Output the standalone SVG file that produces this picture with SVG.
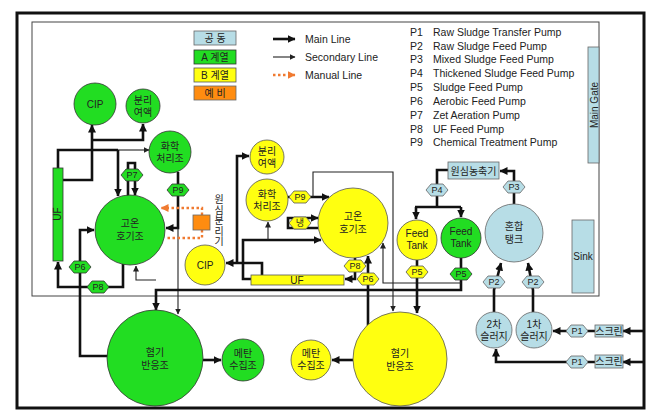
<svg xmlns="http://www.w3.org/2000/svg" xmlns:xlink="http://www.w3.org/1999/xlink" width="661" height="415" viewBox="0 0 661 415">
<style>
text{font-family:"Liberation Sans","Noto Sans CJK KR",sans-serif;fill:#222;}
.k{font-size:10px;text-anchor:middle;}
.h{font-size:9px;text-anchor:middle;}
.lg{font-size:10.5px;}
.g{fill:#22dd22;stroke:#333;stroke-width:0.8;}
.y{fill:#ffff10;stroke:#555;stroke-width:0.8;}
.b{fill:#b7dde6;stroke:#666;stroke-width:0.8;}
.o{fill:#ff8c10;stroke:#666;stroke-width:0.8;}
.m{fill:none;stroke:#111;stroke-width:2.6;marker-end:url(#am);}
.mn{fill:none;stroke:#111;stroke-width:2.6;}
.s{fill:none;stroke:#222;stroke-width:1.1;marker-end:url(#as);}
.sn{fill:none;stroke:#222;stroke-width:1.1;}
.d{fill:none;stroke:#f07a30;stroke-width:2.4;stroke-dasharray:2.5 2.5;}
</style>
<defs>
<marker id="am" viewBox="0 0 8 8" markerWidth="8" markerHeight="8" refX="7.5" refY="4" orient="auto" markerUnits="userSpaceOnUse"><path d="M0,0 L8,4 L0,8 z" fill="#111"/></marker>
<marker id="as" viewBox="0 0 6 6" markerWidth="6" markerHeight="6" refX="5.5" refY="3" orient="auto" markerUnits="userSpaceOnUse"><path d="M0,0 L6,3 L0,6 z" fill="#222"/></marker>
<marker id="ao" viewBox="0 0 8 8" markerWidth="8" markerHeight="8" refX="7.5" refY="4" orient="auto" markerUnits="userSpaceOnUse"><path d="M0,0 L8,4 L0,8 z" fill="#f07a30"/></marker>
<polygon id="hex" points="-11,0 -6,-6 6,-6 11,0 6,6 -6,6"/>
</defs>
<rect x="0" y="0" width="661" height="415" fill="#fff"/>
<rect x="17" y="13" width="627" height="395" fill="#fff" stroke="#111" stroke-width="3"/>
<rect x="32" y="22" width="567" height="274" fill="none" stroke="#444" stroke-width="1"/>

<g id="legend">
<rect x="194" y="31" width="42" height="14" class="b"/><text x="215" y="42" class="k">공 동</text>
<rect x="194" y="50" width="42" height="14" class="g"/><text x="215" y="61" class="k">A 계열</text>
<rect x="194" y="68" width="42" height="14" class="y"/><text x="215" y="79" class="k">B 계열</text>
<rect x="194" y="86" width="42" height="14" class="o"/><text x="215" y="97" class="k">예 비</text>
<line x1="273" y1="39" x2="295" y2="39" class="m"/><text x="305" y="43" class="lg">Main Line</text>
<line x1="273" y1="57" x2="295" y2="57" class="s"/><text x="305" y="61" class="lg">Secondary Line</text>
<line x1="273" y1="75" x2="295" y2="75" class="d" marker-end="url(#ao)"/><text x="305" y="79" class="lg">Manual Line</text>
<g class="lg">
<text x="410" y="36">P1</text><text x="433" y="36">Raw Sludge Transfer Pump</text>
<text x="410" y="49.5">P2</text><text x="433" y="49.5">Raw Sludge Feed Pump</text>
<text x="410" y="63">P3</text><text x="433" y="63">Mixed Sludge Feed Pump</text>
<text x="410" y="77">P4</text><text x="433" y="77">Thickened Sludge Feed Pump</text>
<text x="410" y="91">P5</text><text x="433" y="91">Sludge Feed Pump</text>
<text x="410" y="105">P6</text><text x="433" y="105">Aerobic Feed Pump</text>
<text x="410" y="119">P7</text><text x="433" y="119">Zet Aeration Pump</text>
<text x="410" y="132.5">P8</text><text x="433" y="132.5">UF Feed Pump</text>
<text x="410" y="146">P9</text><text x="433" y="146">Chemical Treatment Pump</text>
</g>
</g>

<g id="connectors">
<path d="M58,168 V150 H118" class="mn"/>
<path d="M118,150 H149" class="s"/>
<path d="M118,150 V196" class="m"/>
<path d="M63,180 H92 V125" class="m"/>
<path d="M92,140 H143 V124" class="m"/>
<path d="M128,196 V163 H135 V195" class="m"/>
<path d="M178,172 V228 H166" class="m"/>
<path d="M178,228 V314" class="s"/>
<path d="M123,264 V287 H58 V262" class="m"/>
<path d="M108,356 H80 V230 H94" class="m"/>
<path d="M156,280 H136 V266" class="s"/>
<path d="M461,258 V290 H156 V310" class="m"/>
<path d="M203,360 H221" class="m"/>
<path d="M202,215 V208 H161" class="d" marker-end="url(#ao)"/>
<path d="M202,230 V238 H166" class="d"/>
<path d="M237,263 V156 H249" class="m"/>
<path d="M262,275 V263 H226" class="m"/>
<path d="M251,279 H243 V240 H321" class="m"/>
<path d="M268,240 V222" class="s"/>
<path d="M288,197 H329" class="m"/>
<path d="M313,197 V172 H393 V311" class="s"/>
<path d="M318,228 H288 V218 H318" class="m"/>
<path d="M355,258 V279 H345" class="m"/>
<path d="M368,326 V256" class="m"/>
<path d="M461,283 H383 V243" class="s"/>
<path d="M417,260 V313" class="m"/>
<path d="M353,360 H332" class="m"/>
<path d="M448,170 H437 V207" class="mn"/>
<path d="M415,207 H461" class="mn"/>
<path d="M416,207 V219" class="m"/>
<path d="M461,207 V217" class="m"/>
<path d="M514,204 V171 H500" class="m"/>
<path d="M494,312 V290 L501,263" class="m" stroke-width="2"/>
<path d="M533,312 V290 L528,263" class="m"/>
<path d="M595,331 H553" class="m"/>
<path d="M643,331 H623" class="m"/>
<path d="M595,362 H496 V349" class="m"/>
<path d="M643,362 H623" class="m"/>
</g>

<g id="n-cip-a"><circle cx="95" cy="104" r="21" class="g"/><text x="95" y="108" class="k">CIP</text></g>
<g id="n-sep-a"><circle cx="143" cy="106" r="17" class="g"/><text x="143" y="104" class="k">분리</text><text x="143" y="116" class="k">여액</text></g>
<g id="n-chem-a"><circle cx="170" cy="152" r="21" class="g"/><text x="170" y="150" class="k">화학</text><text x="170" y="162" class="k">처리조</text></g>
<g id="n-aer-a"><circle cx="130" cy="230" r="35" class="g"/><text x="130" y="227" class="k">고온</text><text x="130" y="240" class="k">호기조</text></g>
<g id="n-uf-a"><rect x="53" y="168" width="10" height="93" class="g"/><text x="58" y="214" class="k" transform="rotate(-90 58 214)" dy="3">UF</text></g>
<g id="n-p7"><use xlink:href="#hex" x="132" y="175" class="g"/><text x="132" y="178" class="h">P7</text></g>
<g id="n-p9a"><use xlink:href="#hex" x="178" y="190" class="g"/><text x="178" y="193" class="h">P9</text></g>
<g id="n-p6a"><use xlink:href="#hex" x="80" y="267" class="g"/><text x="80" y="270" class="h">P6</text></g>
<g id="n-p8a"><use xlink:href="#hex" x="98" y="287" class="g"/><text x="98" y="290" class="h">P8</text></g>
<g id="n-ana-a"><circle cx="155" cy="358" r="48" class="g"/><text x="155" y="356" class="k">혐기</text><text x="155" y="369" class="k">반응조</text></g>
<g id="n-met-a"><circle cx="243" cy="360" r="21" class="g"/><text x="243" y="357" class="k">메탄</text><text x="243" y="369" class="k">수집조</text></g>

<g id="n-centrifuge"><rect x="193" y="215" width="17" height="15" class="o"/>
<g font-size="9.5"><text x="219" y="203" class="k" font-size="9.5">원</text><text x="219" y="213.5" class="k" font-size="9.5">심</text><text x="219" y="224" class="k" font-size="9.5">분</text><text x="219" y="234.5" class="k" font-size="9.5">리</text><text x="219" y="245" class="k" font-size="9.5">기</text></g></g>

<g id="n-sep-b"><circle cx="267" cy="157" r="17" class="y"/><text x="267" y="155" class="k">분리</text><text x="267" y="167" class="k">여액</text></g>
<g id="n-chem-b"><circle cx="267" cy="200" r="21" class="y"/><text x="267" y="198" class="k">화학</text><text x="267" y="210" class="k">처리조</text></g>
<g id="n-aer-b"><circle cx="353" cy="223" r="35" class="y"/><text x="353" y="220" class="k">고온</text><text x="353" y="233" class="k">호기조</text></g>
<g id="n-cip-b"><circle cx="205" cy="265" r="20" class="y"/><text x="205" y="269" class="k">CIP</text></g>
<g id="n-uf-b"><rect x="251" y="275" width="93" height="10" class="y"/><text x="297" y="284" class="k">UF</text></g>
<g id="n-p9b"><use xlink:href="#hex" x="300" y="197" class="y"/><text x="300" y="200" class="h">P9</text></g>
<g id="n-cool"><use xlink:href="#hex" x="300" y="223" class="y"/><text x="300" y="226" class="h">냉</text></g>
<g id="n-p8b"><use xlink:href="#hex" x="355" y="266" class="y"/><text x="355" y="269" class="h">P8</text></g>
<g id="n-p6b"><use xlink:href="#hex" x="368" y="279" class="y"/><text x="368" y="282" class="h">P6</text></g>
<g id="n-feed-b"><circle cx="417" cy="240" r="20" class="y"/><text x="417" y="237" class="k">Feed</text><text x="417" y="249" class="k">Tank</text></g>
<g id="n-p5b"><use xlink:href="#hex" x="417" y="272" class="y"/><text x="417" y="275" class="h">P5</text></g>
<g id="n-ana-b"><circle cx="400" cy="359" r="47" class="y"/><text x="400" y="357" class="k">혐기</text><text x="400" y="370" class="k">반응조</text></g>
<g id="n-met-b"><circle cx="311" cy="360" r="20" class="y"/><text x="311" y="357" class="k">메탄</text><text x="311" y="369" class="k">수집조</text></g>

<g id="n-feed-a"><circle cx="461" cy="238" r="20" class="g"/><text x="461" y="235" class="k">Feed</text><text x="461" y="247" class="k">Tank</text></g>
<g id="n-p5a"><use xlink:href="#hex" x="461" y="274" class="g"/><text x="461" y="277" class="h">P5</text></g>

<g id="n-thick"><rect x="448" y="162" width="51" height="17" class="b"/><text x="473.5" y="174.5" class="k">원심농축기</text></g>
<g id="n-p4"><use xlink:href="#hex" x="437" y="190" class="b"/><text x="437" y="193" class="h">P4</text></g>
<g id="n-p3"><use xlink:href="#hex" x="514" y="187" class="b"/><text x="514" y="190" class="h">P3</text></g>
<g id="n-mix"><circle cx="514" cy="233" r="29" class="b"/><text x="514" y="230" class="k">혼합</text><text x="514" y="243" class="k">탱크</text></g>
<g id="n-p2a"><use xlink:href="#hex" x="494" y="282" class="b"/><text x="494" y="285" class="h">P2</text></g>
<g id="n-p2b"><use xlink:href="#hex" x="533" y="282" class="b"/><text x="533" y="285" class="h">P2</text></g>
<g id="n-sl2"><circle cx="494" cy="330" r="18" class="b"/><text x="494" y="328" class="k">2차</text><text x="494" y="340" class="k">슬러지</text></g>
<g id="n-sl1"><circle cx="534" cy="330" r="18" class="b"/><text x="534" y="328" class="k">1차</text><text x="534" y="340" class="k">슬러지</text></g>
<g id="n-p1a"><use xlink:href="#hex" x="577" y="331" class="b"/><text x="577" y="334" class="h">P1</text></g>
<g id="n-p1b"><use xlink:href="#hex" x="577" y="362" class="b"/><text x="577" y="365" class="h">P1</text></g>
<g id="n-scr1"><rect x="595" y="325" width="28" height="12" class="b"/><text x="609" y="334.5" class="k" font-size="9">스크린</text></g>
<g id="n-scr2"><rect x="595" y="355" width="28" height="13" class="b"/><text x="609" y="365" class="k" font-size="9">스크린</text></g>

<g id="n-gate"><rect x="588" y="47" width="11" height="116" class="b"/><text x="594" y="105" class="k" transform="rotate(-90 594 105)" dy="3.5">Main Gate</text></g>
<g id="n-sink"><rect x="572" y="220" width="22" height="73" class="b"/><text x="583" y="260" class="k" font-size="11">Sink</text></g>
</svg>
